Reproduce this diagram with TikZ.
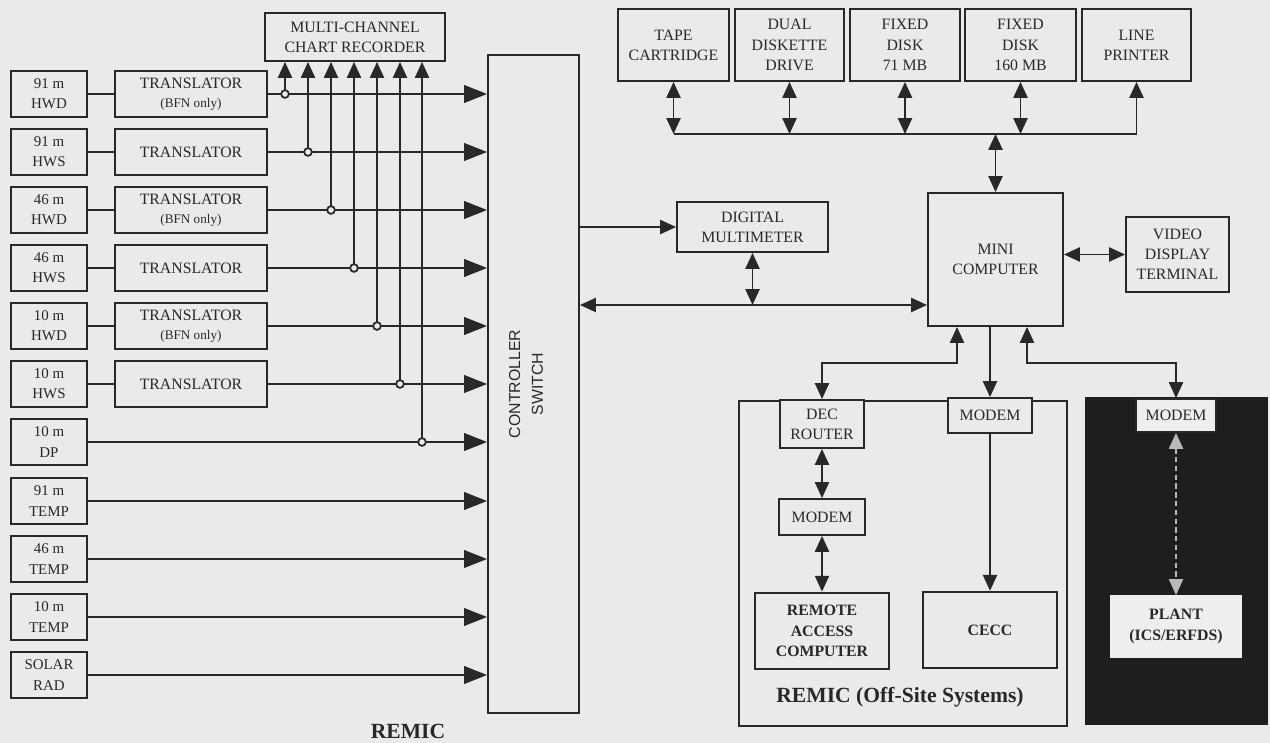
\documentclass[tikz,border=0pt]{standalone}
\usepackage{fontspec}
\setmainfont{Liberation Serif}
\setsansfont{Liberation Sans}
\usetikzlibrary{arrows.meta}
\definecolor{bg}{RGB}{234,234,234}
\definecolor{ink}{RGB}{40,40,40}
\definecolor{panel}{RGB}{30,30,30}
\definecolor{paper}{RGB}{238,238,238}
\newcommand\bx[7][]{\node[box,#1,minimum width={((#5)-(#3))*0.02cm},minimum height={((#6)-(#4))*0.02cm}] (#2) at ({((#3)+(#5))/2},{((#4)+(#6))/2}) {#7};}
\tikzset{
  box/.style={draw=ink, line width=1.1pt, align=center, inner sep=1pt, text=ink, font=\fontsize{9}{11.5}\selectfont},
  sens/.style={font=\fontsize{8.5}{11.5}\selectfont},
  small/.style={font=\fontsize{7.5}{9}\selectfont},
  ln/.style={draw=ink, line width=1pt},
  arr/.style={ln, -{Triangle[length=9pt,width=8pt]}},
  darr/.style={ln, {Triangle[length=9pt,width=8pt]}-{Triangle[length=9pt,width=8pt]}},
  bigarr/.style={ln, -{Triangle[length=13pt,width=10pt]}},
  faint/.style={draw=gray!55, line width=1pt, densely dashed, {Triangle[length=9pt,width=8pt]}-{Triangle[length=9pt,width=8pt]}},
  lbl/.style={text=ink, font=\fontsize{12.3}{14}\selectfont\bfseries}
}
\begin{document}
\begin{tikzpicture}[x=0.02cm,y=-0.02cm]
\useasboundingbox (0,0) rectangle (1270,743);
\fill[bg] (0,0) rectangle (1270,743);

% sensors
\bx[sens]{s1}{11}{71}{87}{117}{91 m\\HWD}
\bx[sens]{s2}{11}{129}{87}{175}{91 m\\HWS}
\bx[sens]{s3}{11}{187}{87}{233}{46 m\\HWD}
\bx[sens]{s4}{11}{245}{87}{291}{46 m\\HWS}
\bx[sens]{s5}{11}{303}{87}{349}{10 m\\HWD}
\bx[sens]{s6}{11}{361}{87}{407}{10 m\\HWS}
\bx[sens]{s7}{11}{419}{87}{465}{10 m\\DP}
\bx[sens]{s8}{11}{478}{87}{524}{91 m\\TEMP}
\bx[sens]{s9}{11}{536}{87}{582}{46 m\\TEMP}
\bx[sens]{s10}{11}{594}{87}{640}{10 m\\TEMP}
\bx[sens]{s11}{11}{652}{87}{698}{SOLAR\\RAD}

% translators
\bx{t1}{115}{71}{267}{117}{TRANSLATOR\\[-1pt]{\fontsize{7.5}{9}\selectfont (BFN only)}}
\bx{t2}{115}{129}{267}{175}{TRANSLATOR}
\bx{t3}{115}{187}{267}{233}{TRANSLATOR\\[-1pt]{\fontsize{7.5}{9}\selectfont (BFN only)}}
\bx{t4}{115}{245}{267}{291}{TRANSLATOR}
\bx{t5}{115}{303}{267}{349}{TRANSLATOR\\[-1pt]{\fontsize{7.5}{9}\selectfont (BFN only)}}
\bx{t6}{115}{361}{267}{407}{TRANSLATOR}

% chart recorder and controller
\bx{rec}{265}{13}{445}{61}{MULTI-CHANNEL\\CHART RECORDER}
\bx{ctrl}{488}{55}{579}{713}{}
\node[rotate=90, align=center, text=ink, font=\sffamily\fontsize{9}{13}\selectfont] (ctrllbl) at (526,384) {CONTROLLER\\SWITCH};
\node[lbl] (remic) at (408,731) {REMIC};

% sensor -> translator -> controller
\foreach \k in {1,...,6} {
  \draw[ln] (s\k) -- (t\k);
  \draw[bigarr] (t\k.east) -- (t\k.east -| ctrl.west);
}
\foreach \k in {7,...,11} {
  \draw[bigarr] (s\k.east) -- (s\k.east -| ctrl.west);
}
% taps to chart recorder
\foreach \x/\n in {285/t1, 308/t2, 331/t3, 354/t4, 377/t5, 400/t6, 422/s7} {
  \draw[arr] (\x,0 |- \n) -- (\x,0 |- rec.south);
  \draw[ln, fill=bg] (\x,0 |- \n) circle[radius=2.2pt];
}

% top peripherals
\bx{tape}{618}{9}{729}{81}{TAPE\\CARTRIDGE}
\bx{dual}{735}{9}{844}{81}{DUAL\\DISKETTE\\DRIVE}
\bx{fd71}{850}{9}{960}{81}{FIXED\\DISK\\71 MB}
\bx{fd160}{965}{9}{1076}{81}{FIXED\\DISK\\160 MB}
\bx{prt}{1082}{9}{1191}{81}{LINE\\PRINTER}
\bx{mini}{928}{193}{1063}{326}{MINI\\COMPUTER}
\bx{vdt}{1126}{217}{1229}{292}{VIDEO\\DISPLAY\\TERMINAL}
\bx{dmm}{677}{202}{828}{252}{DIGITAL\\MULTIMETER}

\draw[darr] (tape.south) -- (tape.south |- 0,134);
\draw[darr] (dual.south) -- (dual.south |- 0,134);
\draw[darr] (fd71.south) -- (fd71.south |- 0,134);
\draw[darr] (fd160.south) -- (fd160.south |- 0,134);
\draw[arr] (tape.south |- 0,134) -| (prt.south);
\draw[darr] (mini.north |- 0,134) -- (mini.north);
\draw[darr] (mini.east |- vdt) -- (vdt.west);

\draw[arr] (ctrl.east |- dmm) -- (dmm.west);
\draw[darr] (ctrl.east |- 0,305) -- (mini.west |- 0,305);
\draw[darr] (dmm.south) -- (dmm.south |- 0,305);

% off-site systems
\bx[line width=1.3pt]{offsite}{739}{401}{1067}{726}{}
\node[lbl] (offlbl) at (900,697) {REMIC (Off-Site Systems)};
\bx[fill=bg]{dec}{780}{400}{864}{448}{DEC\\ROUTER}
\bx[fill=bg]{mdm2}{948}{398}{1032}{433}{MODEM}
\bx{mdm1}{779}{499}{865}{535}{MODEM}
\bx[line width=1.6pt, font=\fontsize{9}{11.5}\selectfont\bfseries]{rac}{755}{593}{889}{669}{REMOTE\\ACCESS\\COMPUTER}
\bx[line width=1.4pt, font=\fontsize{9}{11.5}\selectfont\bfseries]{cecc}{923}{592}{1057}{668}{CECC}

% plant panel
\bx[fill=panel, draw=panel]{panel}{1086}{398}{1267}{724}{}
\bx[fill=paper]{pmdm}{1136}{399}{1216}{432}{MODEM}
\bx[fill=paper, draw=paper, font=\fontsize{9}{11.5}\selectfont\bfseries]{plant}{1111}{596}{1241}{657}{PLANT\\(ICS/ERFDS)}

\draw[darr] (dec.north) |- (957,363) -- (957,0 |- mini.south);
\draw[arr] (mdm2.north |- mini.south) -- (mdm2.north);
\draw[darr] (1027,0 |- mini.south) -- (1027,363) -| (pmdm.north);
\draw[arr] (mdm2.south) -- (mdm2.south |- cecc.north);
\draw[darr] (dec.south) -- (dec.south |- mdm1.north);
\draw[darr] (mdm1.south) -- (mdm1.south |- rac.north);
\draw[faint] (pmdm.south) -- (pmdm.south |- plant.north);
\end{tikzpicture}
\end{document}
